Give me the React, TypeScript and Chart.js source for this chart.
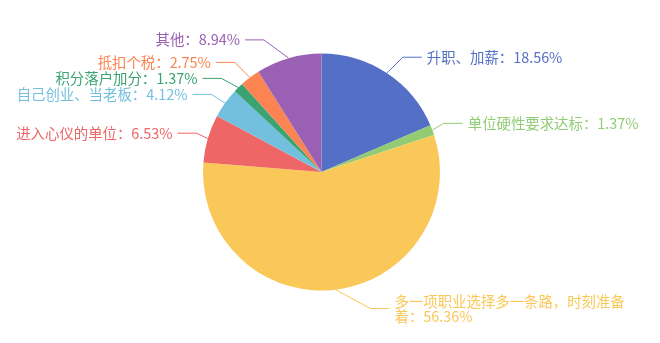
import React, { useEffect, useRef } from "react";
import { Chart, registerables } from "chart.js";

Chart.register(...registerables);

const categories = [
  "升职、加薪",
  "单位硬性要求达标",
  "多一项职业选择多一条路，时刻准备着",
  "进入心仪的单位",
  "自己创业、当老板",
  "积分落户加分",
  "抵扣个税",
  "其他",
];
const percentages = [18.56, 1.37, 56.36, 6.53, 4.12, 1.37, 2.75, 8.94];
const colors = ["#5470c6", "#91cc75", "#fac858", "#ee6666", "#73c0de", "#3ba272", "#fc8452", "#9a60b4"];

const W = 660;
const H = 343;
const FONT = '14.4px "Noto Sans CJK SC", "Noto Sans", sans-serif';
const LINE_H = 15;
const LEN1 = 19;
const LEN2 = 19;
const GAP = 5;
const MAX_LABEL_W = 240;

function wrapText(ctx: CanvasRenderingContext2D, text: string, maxW: number): string[] {
  const lines: string[] = [];
  let cur = "";
  for (const ch of Array.from(text)) {
    const test = cur + ch;
    if (ctx.measureText(test).width > maxW && cur.length > 0) {
      lines.push(cur);
      cur = ch;
    } else {
      cur = test;
    }
  }
  if (cur) lines.push(cur);
  return lines;
}

const pieLabelPlugin = {
  id: "pieLabels",
  afterDraw(chart: any) {
    const ctx: CanvasRenderingContext2D = chart.ctx;
    const meta = chart.getDatasetMeta(0);
    const ds = chart.data.datasets[0];
    const labels = chart.data.labels as string[];
    ctx.save();
    ctx.font = FONT;
    type Item = {
      idx: number; side: number; p1: [number, number]; y: number; lines: string[]; h: number;
      cx: number; cy: number; r: number;
    };
    const items: Item[] = [];
    meta.data.forEach((arc: any, i: number) => {
      const p = arc.getProps(["x", "y", "startAngle", "endAngle", "outerRadius"], true);
      const mid = (p.startAngle + p.endAngle) / 2;
      const dx = Math.cos(mid);
      const dy = Math.sin(mid);
      const r = p.outerRadius;
      const side = dx >= 0 ? 1 : -1;
      const p1: [number, number] = [p.x + dx * r, p.y + dy * r];
      const y = p.y + dy * (r + LEN1);
      const text = `${labels[i]}：${(ds.data[i] as number).toFixed(2)}%`;
      const a = r + 11;
      const b = r + 29;
      const ddy = Math.abs(y - p.y);
      const ex = Math.sqrt(Math.max(0, a * a * (1 - (ddy * ddy) / (b * b))));
      const textX = p.x + side * (ex + LEN2 + GAP);
      const avail = side > 0 ? W - textX - 10 : textX - 10;
      const lines = wrapText(ctx, text, Math.min(MAX_LABEL_W, avail));
      items.push({ idx: i, side, p1, y, lines, h: lines.length * LINE_H + 1, cx: p.x, cy: p.y, r });
    });

    [1, -1].forEach((side) => {
      const list = items.filter((it) => it.side === side).sort((m, n) => m.y - n.y);
      let lastBottom = -Infinity;
      for (const it of list) {
        const top = it.y - it.h / 2;
        if (top < lastBottom) it.y += lastBottom - top;
        lastBottom = it.y + it.h / 2;
      }
    });

    for (const it of items) {
      const color = colors[it.idx];
      const a = it.r + 11;
      const b = it.r + 29;
      const ddy = Math.abs(it.y - it.cy);
      const ex = Math.sqrt(Math.max(0, a * a * (1 - (ddy * ddy) / (b * b))));
      const x2 = it.cx + it.side * ex;
      const x3 = x2 + it.side * LEN2;
      ctx.strokeStyle = color;
      ctx.lineWidth = 1;
      ctx.beginPath();
      ctx.moveTo(it.p1[0], it.p1[1]);
      ctx.lineTo(x2, it.y);
      ctx.lineTo(x3, it.y);
      ctx.stroke();

      ctx.fillStyle = color;
      ctx.textAlign = it.side > 0 ? "left" : "right";
      ctx.textBaseline = "middle";
      const tx = x3 + it.side * GAP;
      const y0 = it.y - ((it.lines.length - 1) * LINE_H) / 2;
      it.lines.forEach((ln, k) => {
        ctx.fillText(ln, tx, y0 + k * LINE_H);
      });
    }
    ctx.restore();
  },
};

export default function App() {
  const ref = useRef<HTMLCanvasElement | null>(null);
  useEffect(() => {
    if (!ref.current) return;
    const chart = new Chart(ref.current, {
      type: "pie",
      data: {
        labels: categories,
        datasets: [
          {
            data: percentages,
            backgroundColor: colors,
            borderWidth: 0,
            hoverOffset: 0,
          },
        ],
      },
      options: {
        animation: false,
        responsive: false,
        maintainAspectRatio: false,
        devicePixelRatio: 1,
        layout: { padding: { left: 203, right: 220, top: 53.5, bottom: 52.5 } },
        plugins: {
          legend: { display: false },
          tooltip: { enabled: false },
        },
      },
      plugins: [pieLabelPlugin],
    });
    return () => chart.destroy();
  }, []);
  return (
    <div style={{ position: "fixed", left: 0, top: 0, width: W, height: H, background: "#fff" }}>
      <canvas ref={ref} width={W} height={H} style={{ width: W, height: H, display: "block" }} />
    </div>
  );
}
